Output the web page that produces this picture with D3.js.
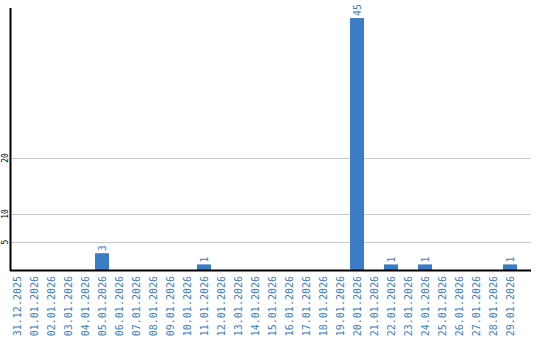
<!DOCTYPE html>
<html><head><meta charset="utf-8">
<script src="https://cdn.jsdelivr.net/npm/d3@7"></script>
<style>body{margin:0;background:#fff}svg{display:block}</style>
</head><body>
<svg id="c" width="540" height="340"></svg>
<script>
const categories = ["31.12.2025","01.01.2026","02.01.2026","03.01.2026","04.01.2026","05.01.2026","06.01.2026","07.01.2026","08.01.2026","09.01.2026","10.01.2026","11.01.2026","12.01.2026","13.01.2026","14.01.2026","15.01.2026","16.01.2026","17.01.2026","18.01.2026","19.01.2026","20.01.2026","21.01.2026","22.01.2026","23.01.2026","24.01.2026","25.01.2026","26.01.2026","27.01.2026","28.01.2026","29.01.2026"];
const values = [0,0,0,0,0,3,0,0,0,0,0,1,0,0,0,0,0,0,0,0,45,0,1,0,1,0,0,0,0,1];
const yTicks = [5,10,20];

const data = categories.map((c, i) => ({c, v: values[i]}));
const svg = d3.select("#c");
const x0 = 10, xEnd = 531, y0 = 270, yTop = 8;
const x = d3.scaleBand().domain(categories).range([x0, x0 + 30*17 - 3]).paddingInner(3/17).paddingOuter(0);
const y = d3.scaleLinear().domain([0, 46.8]).range([y0, 8]);

// gridlines
svg.append("g").selectAll("line").data(yTicks).join("line")
  .attr("x1", x0).attr("x2", xEnd)
  .attr("y1", d => Math.round(y(d)) + 0.5).attr("y2", d => Math.round(y(d)) + 0.5)
  .attr("stroke", "#c8c8c8").attr("stroke-width", 1);

const nz = data.filter(d => d.v > 0);

// bars
svg.append("g").selectAll("rect").data(nz).join("rect")
  .attr("x", d => x(d.c))
  .attr("y", d => y(d.v))
  .attr("width", x.bandwidth())
  .attr("height", d => y0 - y(d.v))
  .attr("fill", "#3b7dc4");

// value labels
svg.append("g").selectAll("text").data(nz).join("text")
  .attr("transform", d => `translate(${x(d.c) + x.bandwidth()/2 + 3.5},${y(d.v) - 2}) rotate(-90)`)
  .attr("font-family", "DejaVu Sans Mono").attr("font-size", 10)
  .attr("fill", "#3b7dc4").text(d => d.v);

// axes lines
svg.append("line").attr("x1", x0 + 0.5).attr("x2", x0 + 0.5).attr("y1", yTop).attr("y2", y0 + 1)
  .attr("stroke", "#000").attr("stroke-width", 2);
svg.append("line").attr("x1", x0).attr("x2", xEnd).attr("y1", y0 + 0.5).attr("y2", y0 + 0.5)
  .attr("stroke", "#000").attr("stroke-width", 2);

// y tick labels
svg.append("g").selectAll("text").data(yTicks).join("text")
  .attr("transform", d => `translate(8,${y(d)}) rotate(-90)`)
  .attr("text-anchor", "middle")
  .attr("font-family", "DejaVu Sans Mono").attr("font-size", 8)
  .attr("fill", "#000").text(d => d);

// x labels
svg.append("g").selectAll("text").data(categories).join("text")
  .attr("transform", d => `translate(${x(d) + x.bandwidth()/2 + 3.5},276) rotate(-90)`)
  .attr("text-anchor", "end")
  .attr("font-family", "DejaVu Sans Mono").attr("font-size", 10)
  .attr("fill", "#3b7dc4").text(d => d);
</script>
</body></html>
